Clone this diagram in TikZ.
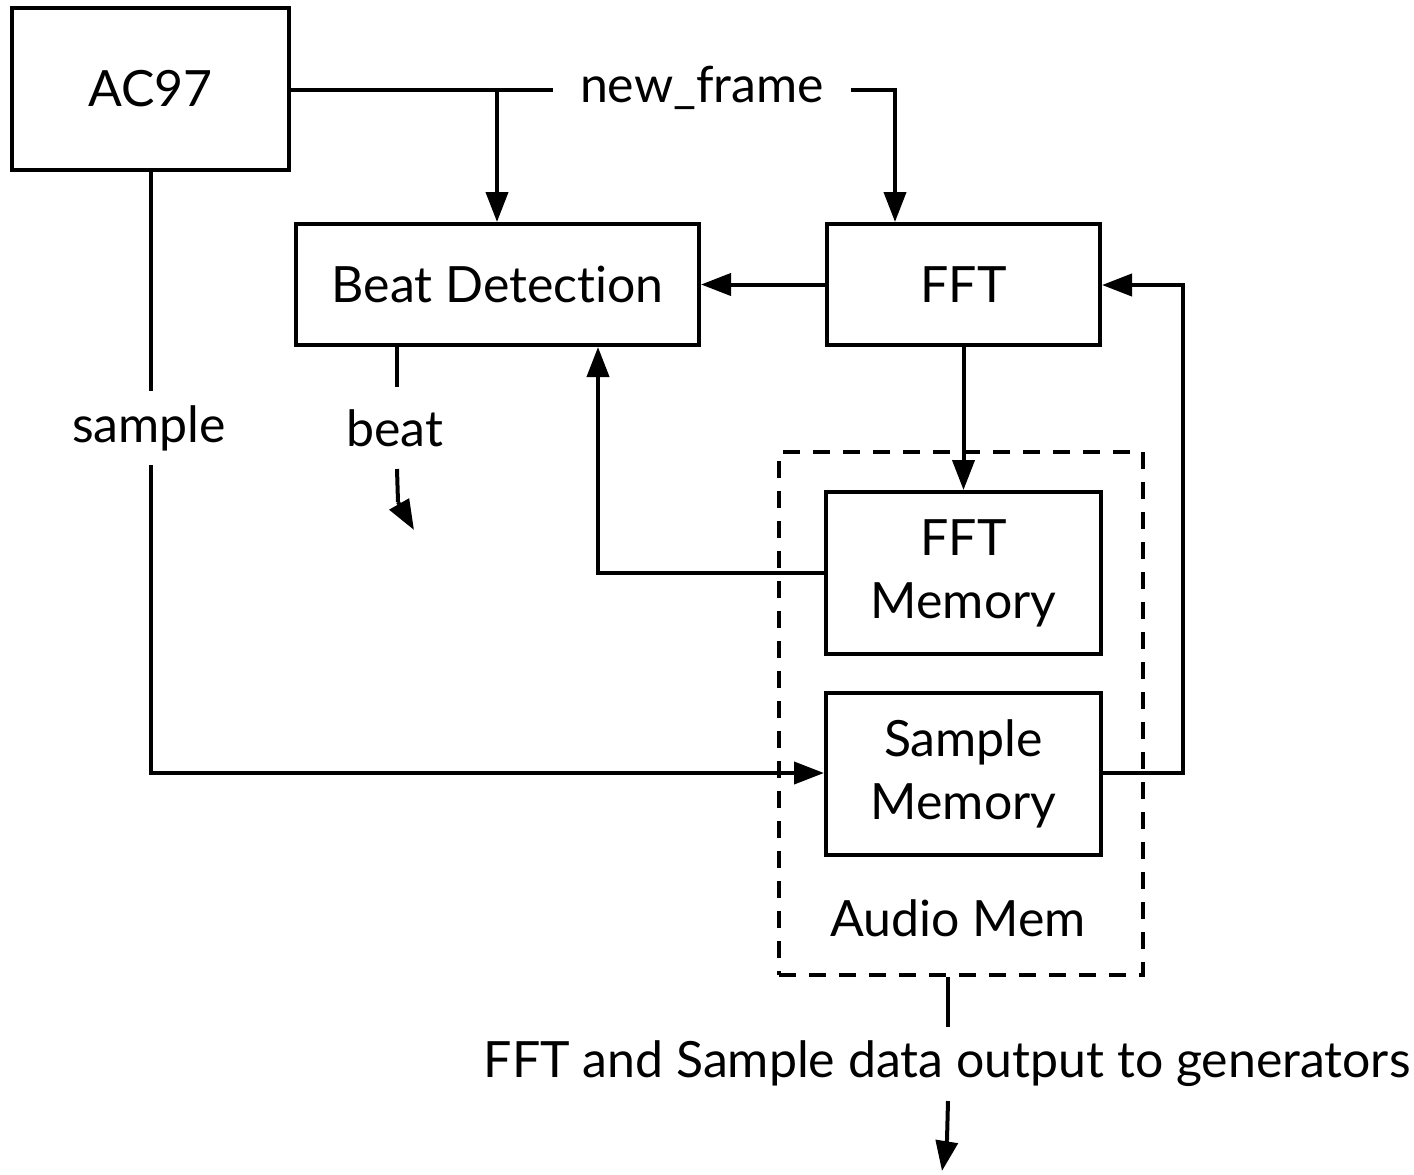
\documentclass[tikz,border=0pt]{standalone}
\usepackage{fontspec}
\setmainfont{Lato}[Ligatures={NoCommon}]
\usetikzlibrary{arrows.meta}
\begin{document}
\begin{tikzpicture}[x=0.5pt,y=-0.5pt,
  line width=2pt,
  every node/.style={font=\fontsize{25}{31.5}\selectfont, inner sep=0pt},
  blk/.style={draw, rectangle, align=center},
  lbl/.style={inner sep=0pt, align=center},
  arr/.style={-{Triangle[length=15pt,width=11pt]}},
  grp/.style={draw, rectangle, dash pattern=on 8.5pt off 6.5pt},
]
\useasboundingbox (0,0) rectangle (1414,1174);
% blocks
\node[blk, minimum width=138.5pt, minimum height=81pt] (ac97) at (150.5,89) {AC97};
\node[blk, minimum width=201.5pt, minimum height=60.5pt] (beat) at (497.5,284.5) {Beat Detection};
\node[blk, minimum width=136.5pt, minimum height=60.5pt] (fft) at (963.5,284.5) {FFT};
\node[grp, minimum width=182pt, minimum height=261.5pt] (amem) at (961,713.5) {};
\node[blk, minimum width=137.5pt, minimum height=81pt] (fftmem) at (963.5,573) {FFT\\Memory};
\node[blk, minimum width=137.5pt, minimum height=81pt] (smem) at (963.5,774) {Sample\\Memory};
\node[lbl] (amemlbl) at (958,918) {Audio Mem};
% labels
\node[lbl, minimum width=147pt] (nf) at (702,88) {new\_frame};
\node[lbl, minimum height=35pt] (samp) at (149,428) {sample};
\node[lbl, minimum height=39pt] (beatlbl) at (395,428) {beat};
\node[lbl, minimum height=35pt] (outlbl) at (947,1064) {FFT and Sample data output to generators};
% coordinates
\coordinate (nfR) at (895,90);
\coordinate (br) at (497,90);
\coordinate (fbl) at (598,573);
\coordinate (sl) at (151,773);
\coordinate (rr1) at (1183,773);
\coordinate (rr2) at (1183,285);
\coordinate (beatbend) at (398,502);
\coordinate (beattip) at (414,530);
\coordinate (outbend) at (947,1140);
\coordinate (outtip) at (942,1171);
% connectors
\draw (ac97.east |- br) -- (nf.west |- br);
\draw[arr] (br) -- (beat.north -| br);
\draw[arr] (nf.east |- nfR) -- (nfR) -- (fft.north -| nfR);
\draw[arr] (fft.west) -- (beat.east);
\draw[arr] (fft.south) -- (fftmem.north);
\draw[arr] (fftmem.west) -- (fbl) -- (beat.south -| fbl);
\draw (ac97.south -| sl) -- (samp.north -| sl);
\draw[arr] (samp.south -| sl) -- (sl) -- (smem.west |- sl);
\draw[arr] (smem.east |- rr1) -- (rr1) -- (rr2) -- (fft.east |- rr2);
\draw (beat.south -| 397,0) -- (beatlbl.north -| 397,0);
\draw (beatlbl.south -| 397,0) -- (beatbend);
\draw[arr] (beatbend) -- (beattip);
\draw (amem.south -| 948,0) -- (outlbl.north -| 948,0);
\draw (outlbl.south -| 948,0) -- (outbend);
\draw[arr] (outbend) -- (outtip);
\end{tikzpicture}
\end{document}
